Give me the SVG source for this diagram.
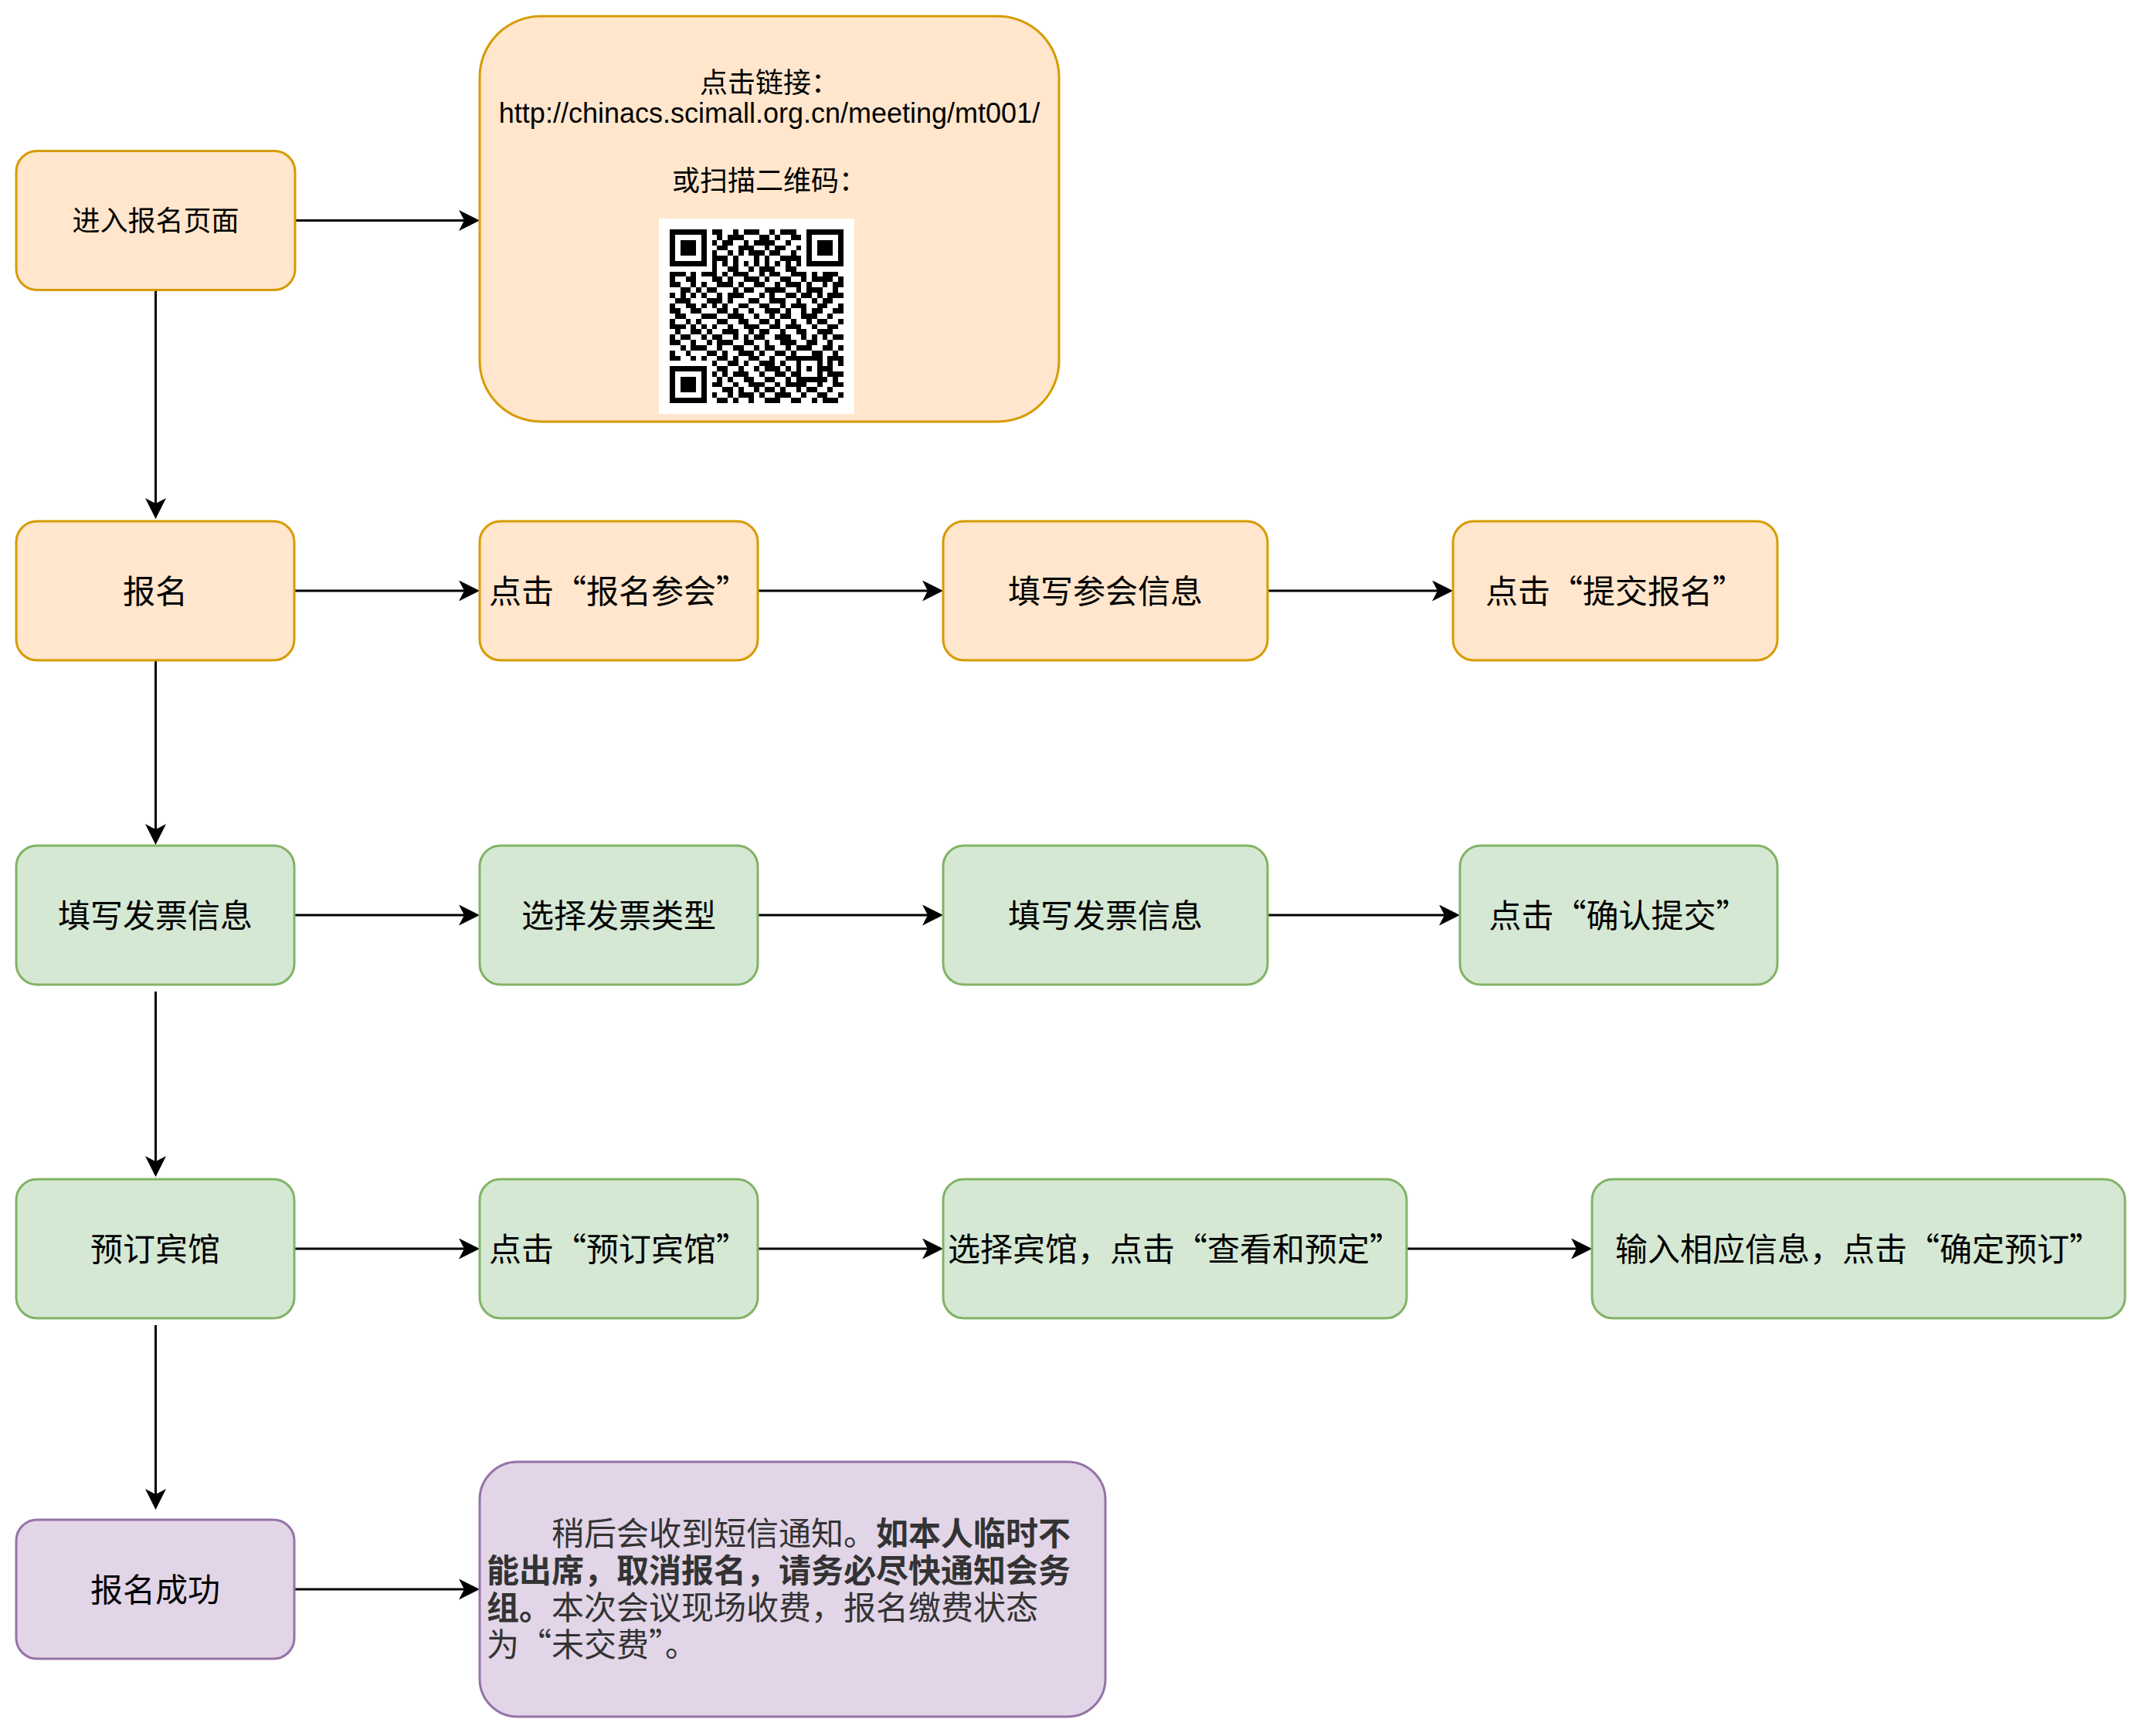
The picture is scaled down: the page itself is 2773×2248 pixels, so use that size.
<svg xmlns="http://www.w3.org/2000/svg" width="2773" height="2248" viewBox="0 0 2773 2248">
<style>
.o{fill:#ffe6cc;stroke:#d79b00;stroke-width:3}
.g{fill:#d5e8d4;stroke:#82b366;stroke-width:3}
.p{fill:#e1d5e7;stroke:#9673a6;stroke-width:3}
.t{font-family:"Noto Sans CJK SC","Noto Sans",sans-serif;font-size:42px;fill:#000;text-anchor:middle;font-feature-settings:"fwid" 1}
.s{font-size:36px}
.u{font-family:"Liberation Sans",Arial,"Noto Sans CJK SC",sans-serif;font-size:36px;fill:#000;text-anchor:middle}
.d{font-family:"Noto Sans CJK SC","Noto Sans",sans-serif;font-size:42px;fill:#333333;font-feature-settings:"fwid" 1}
.b{font-weight:bold}
.e{fill:none;stroke:#000;stroke-width:3;marker-end:url(#arr)}
</style>
<defs>
<marker id="arr" markerUnits="userSpaceOnUse" markerWidth="28" markerHeight="28" viewBox="0 0 28 28" refX="7" refY="13.5" orient="auto">
<path d="M0,0 L27,13.5 L0,27 L7,13.5 Z" fill="#000"/>
</marker>
</defs>
<rect width="2773" height="2248" fill="#ffffff"/>
<g id="edges">
<path class="e" d="M382 285.5 H601"/>
<path class="e" d="M201.5 375.5 V652"/>
<path class="e" d="M381 765 H601"/>
<path class="e" d="M981 765 H1201"/>
<path class="e" d="M1641 765 H1861"/>
<path class="e" d="M201.5 855 V1074"/>
<path class="e" d="M381 1185 H601"/>
<path class="e" d="M981 1185 H1201"/>
<path class="e" d="M1641 1185 H1870"/>
<path class="e" d="M201.5 1284 V1504"/>
<path class="e" d="M381 1617 H601"/>
<path class="e" d="M981 1617 H1201"/>
<path class="e" d="M1821 1617 H2041"/>
<path class="e" d="M201.5 1716 V1935"/>
<path class="e" d="M381 2058 H601"/>
</g>
<g id="n-enter">
<rect class="o" x="21" y="195.5" width="361" height="180" rx="27"/>
<text class="t s" x="201.5" y="299">进入报名页面</text>
</g>
<g id="n-link">
<rect class="o" x="621" y="21" width="750" height="525" rx="79"/>
<text class="t s" x="996" y="120">点击链接：</text>
<text class="u" x="996" y="159">http://chinacs.scimall.org.cn/meeting/mt001/</text>
<text class="t s" x="996" y="247">或扫描二维码：</text>
<rect x="853" y="283" width="253" height="253" fill="#ffffff"/>
<g transform="translate(867.3,297.3) scale(6.8)" fill="#000" shape-rendering="crispEdges">
<path fill-rule="evenodd" d="M0 0h7v7h-7z M1 1v5h5v-5z M2 2h3v3h-3z M26 0h7v7h-7z M27 1v5h5v-5z M28 2h3v3h-3z M0 26h7v7h-7z M1 27v5h5v-5z M2 28h3v3h-3z M24 24h5v5h-5z M25 25v3h3v-3z M26 26h1v1h-1z"/>
<path d="M8 0h2v1h-2zM12 0h1v1h-1zM14 0h3v1h-3zM19 0h1v1h-1zM21 0h3v1h-3z
M9 1h1v1h-1zM11 1h3v1h-3zM17 1h2v1h-2zM20 1h1v1h-1zM23 1h2v1h-2z
M8 2h1v1h-1zM10 2h2v1h-2zM14 2h1v1h-1zM16 2h4v1h-4zM22 2h1v1h-1z
M9 3h2v1h-2zM13 3h3v1h-3zM18 3h1v1h-1zM20 3h2v1h-2zM24 3h1v1h-1z
M8 4h1v1h-1zM11 4h1v1h-1zM13 4h1v1h-1zM15 4h3v1h-3zM19 4h2v1h-2zM23 4h1v1h-1z
M8 5h3v1h-3zM12 5h1v1h-1zM16 5h1v1h-1zM18 5h1v1h-1zM21 5h4v1h-4z
M8 6h1v1h-1zM10 6h1v1h-1zM12 6h1v1h-1zM14 6h1v1h-1zM16 6h1v1h-1zM18 6h1v1h-1zM20 6h1v1h-1zM22 6h1v1h-1zM24 6h1v1h-1z
M8 7h1v1h-1zM11 7h2v1h-2zM15 7h1v1h-1zM17 7h3v1h-3zM22 7h2v1h-2z
M0 8h3v1h-3zM4 8h1v1h-1zM6 8h3v1h-3zM10 8h1v1h-1zM12 8h3v1h-3zM17 8h1v1h-1zM19 8h2v1h-2zM23 8h3v1h-3zM27 8h1v1h-1zM29 8h3v1h-3z
M0 9h1v1h-1zM3 9h2v1h-2zM8 9h2v1h-2zM11 9h1v1h-1zM14 9h3v1h-3zM18 9h1v1h-1zM21 9h2v1h-2zM25 9h1v1h-1zM27 9h4v1h-4zM32 9h1v1h-1z
M0 10h2v1h-2zM4 10h1v1h-1zM6 10h1v1h-1zM9 10h3v1h-3zM13 10h1v1h-1zM16 10h2v1h-2zM20 10h1v1h-1zM22 10h3v1h-3zM26 10h1v1h-1zM29 10h1v1h-1zM31 10h2v1h-2z
M2 11h2v1h-2zM5 11h1v1h-1zM7 11h2v1h-2zM12 11h1v1h-1zM14 11h2v1h-2zM18 11h4v1h-4zM24 11h1v1h-1zM26 11h3v1h-3zM31 11h1v1h-1z
M0 12h1v1h-1zM2 12h1v1h-1zM4 12h1v1h-1zM6 12h1v1h-1zM9 12h1v1h-1zM11 12h3v1h-3zM17 12h1v1h-1zM19 12h1v1h-1zM22 12h2v1h-2zM25 12h2v1h-2zM28 12h1v1h-1zM30 12h3v1h-3z
M1 13h3v1h-3zM7 13h3v1h-3zM11 13h1v1h-1zM15 13h2v1h-2zM19 13h3v1h-3zM24 13h1v1h-1zM27 13h1v1h-1zM29 13h2v1h-2z
M0 14h1v1h-1zM3 14h2v1h-2zM6 14h1v1h-1zM8 14h1v1h-1zM10 14h1v1h-1zM13 14h2v1h-2zM17 14h2v1h-2zM21 14h1v1h-1zM23 14h3v1h-3zM28 14h2v1h-2zM32 14h1v1h-1z
M0 15h2v1h-2zM4 15h2v1h-2zM9 15h2v1h-2zM12 15h1v1h-1zM15 15h1v1h-1zM18 15h3v1h-3zM22 15h1v1h-1zM25 15h1v1h-1zM27 15h2v1h-2zM31 15h2v1h-2z
M1 16h2v1h-2zM6 16h3v1h-3zM11 16h3v1h-3zM16 16h1v1h-1zM19 16h1v1h-1zM21 16h2v1h-2zM25 16h3v1h-3zM30 16h1v1h-1z
M0 17h1v1h-1zM3 17h1v1h-1zM5 17h1v1h-1zM9 17h2v1h-2zM13 17h2v1h-2zM17 17h2v1h-2zM20 17h1v1h-1zM23 17h1v1h-1zM26 17h1v1h-1zM28 17h2v1h-2zM32 17h1v1h-1z
M0 18h3v1h-3zM4 18h1v1h-1zM6 18h1v1h-1zM8 18h1v1h-1zM11 18h1v1h-1zM14 18h3v1h-3zM19 18h2v1h-2zM22 18h3v1h-3zM27 18h1v1h-1zM30 18h2v1h-2z
M1 19h1v1h-1zM4 19h2v1h-2zM7 19h1v1h-1zM10 19h3v1h-3zM15 19h1v1h-1zM17 19h2v1h-2zM21 19h1v1h-1zM24 19h2v1h-2zM28 19h3v1h-3z
M0 20h1v1h-1zM2 20h2v1h-2zM6 20h1v1h-1zM8 20h2v1h-2zM12 20h1v1h-1zM14 20h1v1h-1zM16 20h2v1h-2zM20 20h3v1h-3zM25 20h1v1h-1zM27 20h1v1h-1zM29 20h1v1h-1zM31 20h2v1h-2z
M0 21h2v1h-2zM4 21h1v1h-1zM7 21h1v1h-1zM9 21h3v1h-3zM14 21h2v1h-2zM18 21h1v1h-1zM21 21h3v1h-3zM26 21h2v1h-2zM30 21h1v1h-1z
M2 22h1v1h-1zM4 22h3v1h-3zM9 22h1v1h-1zM12 22h2v1h-2zM16 22h1v1h-1zM18 22h2v1h-2zM22 22h1v1h-1zM24 22h3v1h-3zM29 22h2v1h-2zM32 22h1v1h-1z
M0 23h1v1h-1zM3 23h1v1h-1zM7 23h2v1h-2zM10 23h1v1h-1zM13 23h3v1h-3zM17 23h1v1h-1zM20 23h2v1h-2zM23 23h1v1h-1zM27 23h2v1h-2zM31 23h1v1h-1z
M0 24h2v1h-2zM4 24h1v1h-1zM6 24h1v1h-1zM9 24h2v1h-2zM12 24h1v1h-1zM15 24h2v1h-2zM19 24h1v1h-1zM22 24h2v1h-2zM30 24h3v1h-3z
M8 25h1v1h-1zM11 25h2v1h-2zM14 25h1v1h-1zM17 25h3v1h-3zM21 25h1v1h-1zM30 25h1v1h-1zM32 25h1v1h-1z
M9 26h2v1h-2zM13 26h1v1h-1zM16 26h1v1h-1zM18 26h3v1h-3zM22 26h1v1h-1zM29 26h2v1h-2z
M8 27h1v1h-1zM10 27h1v1h-1zM12 27h3v1h-3zM17 27h1v1h-1zM20 27h2v1h-2zM23 27h1v1h-1zM30 27h3v1h-3z
M9 28h1v1h-1zM11 28h1v1h-1zM14 28h2v1h-2zM18 28h2v1h-2zM22 28h1v1h-1zM29 28h1v1h-1zM31 28h1v1h-1z
M8 29h2v1h-2zM12 29h1v1h-1zM15 29h3v1h-3zM20 29h1v1h-1zM22 29h4v1h-4zM28 29h1v1h-1zM31 29h2v1h-2z
M10 30h2v1h-2zM13 30h1v1h-1zM16 30h1v1h-1zM18 30h2v1h-2zM21 30h1v1h-1zM24 30h1v1h-1zM26 30h2v1h-2zM30 30h1v1h-1z
M8 31h1v1h-1zM11 31h1v1h-1zM13 31h3v1h-3zM17 31h1v1h-1zM20 31h3v1h-3zM25 31h1v1h-1zM28 31h2v1h-2zM32 31h1v1h-1z
M9 32h2v1h-2zM12 32h1v1h-1zM15 32h1v1h-1zM18 32h3v1h-3zM23 32h2v1h-2zM27 32h1v1h-1zM29 32h3v1h-3z"/>
</g>
</g>
<g id="n-signup">
<rect class="o" x="21" y="675" width="360" height="180" rx="27"/>
<text class="t" x="201" y="781">报名</text>
</g>
<g id="n-click-join">
<rect class="o" x="621" y="675" width="360" height="180" rx="27"/>
<text class="t" x="801" y="781">点击“报名参会”</text>
</g>
<g id="n-fill-join">
<rect class="o" x="1221" y="675" width="420" height="180" rx="27"/>
<text class="t" x="1431" y="781">填写参会信息</text>
</g>
<g id="n-submit">
<rect class="o" x="1881" y="675" width="420" height="180" rx="27"/>
<text class="t" x="2091" y="781">点击“提交报名”</text>
</g>
<g id="n-invoice">
<rect class="g" x="21" y="1095" width="360" height="180" rx="27"/>
<text class="t" x="201" y="1201">填写发票信息</text>
</g>
<g id="n-invoice-type">
<rect class="g" x="621" y="1095" width="360" height="180" rx="27"/>
<text class="t" x="801" y="1201">选择发票类型</text>
</g>
<g id="n-invoice-fill">
<rect class="g" x="1221" y="1095" width="420" height="180" rx="27"/>
<text class="t" x="1431" y="1201">填写发票信息</text>
</g>
<g id="n-confirm">
<rect class="g" x="1890" y="1095" width="411" height="180" rx="27"/>
<text class="t" x="2095.5" y="1201">点击“确认提交”</text>
</g>
<g id="n-hotel">
<rect class="g" x="21" y="1527" width="360" height="180" rx="27"/>
<text class="t" x="201" y="1633">预订宾馆</text>
</g>
<g id="n-click-hotel">
<rect class="g" x="621" y="1527" width="360" height="180" rx="27"/>
<text class="t" x="801" y="1633">点击“预订宾馆”</text>
</g>
<g id="n-choose-hotel">
<rect class="g" x="1221" y="1527" width="600" height="180" rx="27"/>
<text class="t" x="1521" y="1633">选择宾馆，点击“查看和预定”</text>
</g>
<g id="n-input">
<rect class="g" x="2061" y="1527" width="690" height="180" rx="27"/>
<text class="t" x="2406" y="1633">输入相应信息，点击“确定预订”</text>
</g>
<g id="n-success">
<rect class="p" x="21" y="1968" width="360" height="180" rx="27"/>
<text class="t" x="201" y="2074">报名成功</text>
</g>
<g id="n-notice">
<rect class="p" x="621" y="1893" width="810" height="330" rx="49"/>
<text class="d" y="2001"><tspan x="714">稍后会收到短信通知。</tspan><tspan class="b">如本人临时不</tspan><tspan class="b" x="630" dy="48">能出席，取消报名，请务必尽快通知会务</tspan><tspan class="b" x="630" dy="48">组。</tspan><tspan>本次会议现场收费，报名缴费状态</tspan><tspan x="630" dy="48">为“未交费”。</tspan></text>
</g>
</svg>
